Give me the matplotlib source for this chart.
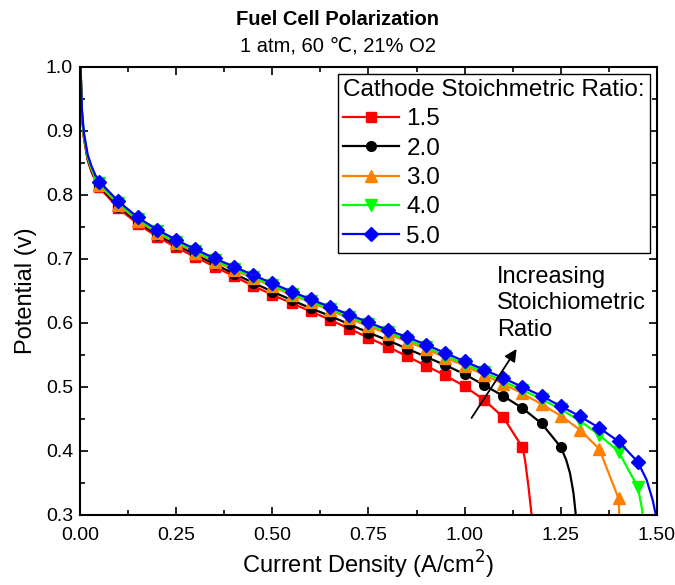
#!/usr/bin/env python3
"""
Fuel cell polarization curves for several cathode stoichiometric ratios.
"""

import matplotlib
matplotlib.use('Agg')
import matplotlib.pyplot as plt
from matplotlib.ticker import MultipleLocator

plt.rcParams['font.family'] = ['Liberation Sans', 'DejaVu Sans']

# Data
head_x = [0.0, 0.005, 0.01, 0.02, 0.03, 0.04]
marker_x = [0.05, 0.10, 0.15, 0.20, 0.25, 0.30, 0.35, 0.40, 0.45, 0.50,
            0.55, 0.60, 0.65, 0.70, 0.75, 0.80, 0.85, 0.90, 0.95, 1.00,
            1.05, 1.10, 1.15, 1.20, 1.25, 1.30, 1.35, 1.40, 1.45]

ratios = ['1.5', '2.0', '3.0', '4.0', '5.0']

head_y = {
    '1.5': [1.03, 0.925, 0.889, 0.854, 0.836, 0.822],
    '2.0': [1.03, 0.927, 0.891, 0.856, 0.838, 0.824],
    '3.0': [1.03, 0.929, 0.893, 0.858, 0.840, 0.826],
    '4.0': [1.03, 0.931, 0.895, 0.860, 0.842, 0.828],
    '5.0': [1.03, 0.934, 0.898, 0.863, 0.845, 0.831],
}

marker_y = {
    '1.5': [0.812, 0.779, 0.755, 0.735, 0.718, 0.703, 0.688, 0.673, 0.658,
            0.644, 0.631, 0.618, 0.605, 0.591, 0.577, 0.563, 0.548, 0.533,
            0.518, 0.501, 0.480, 0.453, 0.406],
    '2.0': [0.814, 0.782, 0.758, 0.738, 0.722, 0.707, 0.692, 0.677, 0.663,
            0.649, 0.636, 0.623, 0.611, 0.598, 0.585, 0.573, 0.560, 0.547,
            0.534, 0.520, 0.503, 0.486, 0.467, 0.443, 0.406],
    '3.0': [0.816, 0.785, 0.760, 0.741, 0.725, 0.710, 0.696, 0.683, 0.670,
            0.657, 0.644, 0.632, 0.620, 0.607, 0.595, 0.583, 0.571, 0.559,
            0.546, 0.533, 0.519, 0.505, 0.490, 0.473, 0.455, 0.433, 0.403,
            0.326],
    '4.0': [0.818, 0.787, 0.762, 0.743, 0.727, 0.712, 0.698, 0.685, 0.672,
            0.659, 0.646, 0.634, 0.622, 0.610, 0.598, 0.586, 0.574, 0.562,
            0.549, 0.536, 0.523, 0.509, 0.495, 0.481, 0.465, 0.447, 0.425,
            0.399, 0.344],
    '5.0': [0.821, 0.790, 0.765, 0.746, 0.730, 0.715, 0.701, 0.688, 0.675,
            0.662, 0.649, 0.637, 0.625, 0.613, 0.601, 0.589, 0.578, 0.566,
            0.553, 0.540, 0.527, 0.514, 0.500, 0.486, 0.470, 0.454, 0.436,
            0.415, 0.383],
}

# steep drop after the last marker
tail_x = {
    '1.5': [1.157, 1.166, 1.174],
    '2.0': [1.264, 1.274, 1.283, 1.289],
    '3.0': [1.402],
    '4.0': [1.460, 1.463],
    '5.0': [1.473, 1.489, 1.497],
}
tail_y = {
    '1.5': [0.386, 0.344, 0.300],
    '2.0': [0.386, 0.365, 0.334, 0.300],
    '3.0': [0.300],
    '4.0': [0.313, 0.300],
    '5.0': [0.355, 0.323, 0.300],
}

colors = {'1.5': '#ff0000', '2.0': '#000000', '3.0': '#ff8000',
          '4.0': '#00ff00', '5.0': '#0000ff'}
markers = {'1.5': ('s', 6.5), '2.0': ('o', 7.0), '3.0': ('^', 8.0),
           '4.0': ('v', 8.0), '5.0': ('D', 7.0)}


def make_plot():
    fig = plt.figure(figsize=(6.75, 5.85), dpi=100)
    ax = fig.add_axes([0.1185, 0.1197, 0.8548, 0.7658])

    for r in ratios:
        n = len(marker_y[r])
        xs = head_x + marker_x[:n] + tail_x[r]
        ys = head_y[r] + marker_y[r] + tail_y[r]
        m, ms = markers[r]
        ax.plot(xs, ys, color=colors[r], lw=1.6, marker=m, ms=ms,
                markevery=slice(len(head_x), len(head_x) + n), label=r)

    ax.set_xlim(0, 1.5)
    ax.set_ylim(0.3, 1.0)
    ax.xaxis.set_major_locator(MultipleLocator(0.25))
    ax.xaxis.set_minor_locator(MultipleLocator(0.125))
    ax.yaxis.set_major_locator(MultipleLocator(0.1))
    ax.yaxis.set_minor_locator(MultipleLocator(0.05))
    ax.xaxis.set_major_formatter(plt.FormatStrFormatter('%.2f'))
    ax.yaxis.set_major_formatter(plt.FormatStrFormatter('%.1f'))
    ax.tick_params(which='both', direction='in', top=True, right=True,
                   width=1.2, labelsize=14)
    ax.tick_params(which='major', length=6, pad=5)
    ax.tick_params(axis='x', which='major', pad=9)
    ax.tick_params(which='minor', length=3.5)
    for s in ax.spines.values():
        s.set_linewidth(1.5)

    ax.set_xlabel('Current Density (A/cm$^2$)', fontsize=17, labelpad=3)
    ax.set_ylabel('Potential (v)', fontsize=17, labelpad=6)

    fig.text(0.5, 0.966, 'Fuel Cell Polarization', ha='center', va='center',
             fontsize=14.5, fontweight='bold')
    fig.text(0.5, 0.922, '1 atm, 60 \u2103, 21% O2', ha='center',
             va='center', fontsize=14.5)

    leg = ax.legend(title='Cathode Stoichmetric Ratio:', loc='upper right',
                    fontsize=17.5, title_fontsize=17.5, fancybox=False,
                    framealpha=1, edgecolor='black', borderaxespad=0.3,
                    handlelength=2.3, handletextpad=0.3, labelspacing=0.3,
                    alignment='left', borderpad=0.2)
    leg.get_frame().set_linewidth(1.0)

    ax.text(1.084, 0.689, 'Increasing\nStoichiometric\nRatio', fontsize=17,
            ha='left', va='top', linespacing=1.25)
    ax.annotate('', xy=(1.139, 0.563), xytext=(1.014, 0.448),
                arrowprops=dict(arrowstyle='-|>', color='black', lw=1.3,
                                mutation_scale=18))

    fig.savefig('out.png', dpi=100)
    plt.close(fig)


if __name__ == '__main__':
    make_plot()
